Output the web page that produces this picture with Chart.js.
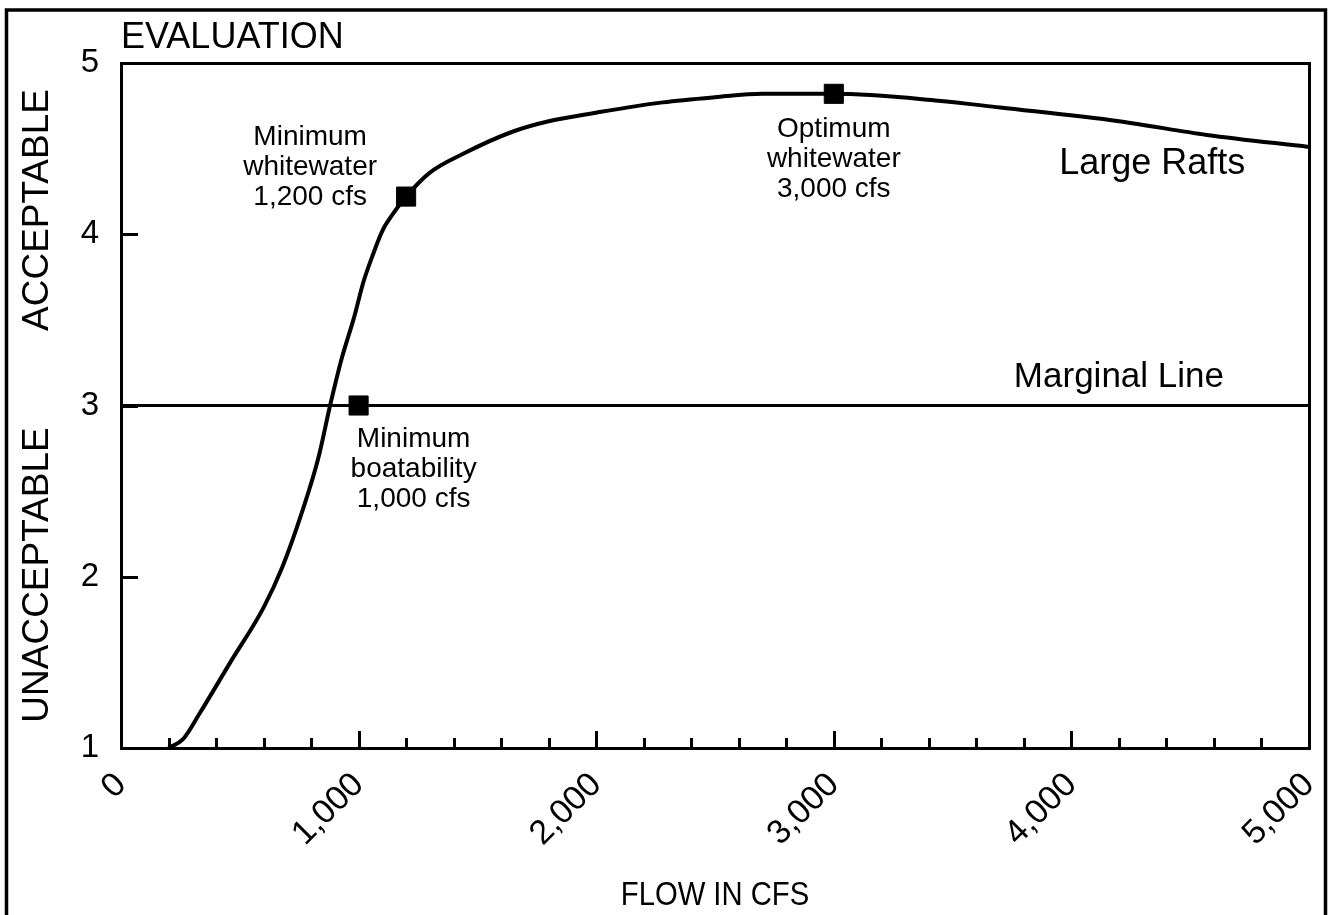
<!DOCTYPE html>
<html>
<head>
<meta charset="utf-8">
<script src="https://cdn.jsdelivr.net/npm/chart.js@4.4.1/dist/chart.umd.min.js"></script>
<style>
  html, body { margin: 0; padding: 0; background: #fff; }
  #wrap { width: 1333px; height: 915px; }
</style>
</head>
<body>
<div id="wrap"><canvas id="flowChart" width="1333" height="915"></canvas></div>
<script>
// Large rafts evaluation curve
const flowCfs = [200, 260, 330, 460, 600, 680, 760, 830, 880, 930, 980, 1020, 1060, 1100, 1140, 1200,
                 1300, 1440, 1650, 1800, 2000, 2280, 2500, 2700, 3000, 3440, 3700, 4200, 4570, 5000];
const ratingLargeRafts = [1.00, 1.05, 1.20, 1.50, 1.82, 2.06, 2.37, 2.69, 3.00, 3.28, 3.51, 3.72, 3.88, 4.02, 4.11, 4.22,
                          4.36, 4.47, 4.60, 4.66, 4.71, 4.77, 4.80, 4.82, 4.82, 4.78, 4.74, 4.66, 4.58, 4.51];

const markerFlow = [1000, 1200, 3000];
const markerRating = [3.00, 4.22, 4.82];

const marginalFlow = [0, 5000];
const marginalRating = [3, 3];

const markerNotes = [
    ['Minimum', 'boatability', '1,000 cfs'],
    ['Minimum', 'whitewater', '1,200 cfs'],
    ['Optimum', 'whitewater', '3,000 cfs']
];

const FONT = '"Liberation Sans", Arial, Helvetica, sans-serif';

// pixel offsets of each note from its marker (layout only)
const noteOffsets = [
    {dx: 55, dy: 41},
    {dx: -96, dy: -52},
    {dx: 0, dy: 43}
];

function toPoints(xs, ys) {
    return xs.map((x, i) => ({x: x, y: ys[i]}));
}

function fmtFlow(v) {
    return v.toLocaleString('en-US');
}

function textLines(ctx, lines, cx, y0, lh) {
    lines.forEach((t, i) => ctx.fillText(t, cx, y0 + i * lh));
}

const figurePlugin = {
    id: 'figure',
    beforeDraw(chart) {
        const ctx = chart.ctx;
        ctx.save();
        ctx.fillStyle = '#fff';
        ctx.fillRect(0, 0, chart.width, chart.height);
        // outer border of the figure
        ctx.strokeStyle = '#000';
        ctx.lineWidth = 3.5;
        ctx.beginPath();
        ctx.moveTo(6.5, 920);
        ctx.lineTo(6.5, 10);
        ctx.lineTo(1325.5, 10);
        ctx.lineTo(1325.5, 920);
        ctx.stroke();
        ctx.restore();
    },
    afterDatasetsDraw(chart) {
        const ctx = chart.ctx;
        const a = chart.chartArea;
        const xs = chart.scales.x;
        const ys = chart.scales.y;
        ctx.save();
        ctx.strokeStyle = '#000';
        ctx.fillStyle = '#000';

        // plot frame
        ctx.lineWidth = 3;
        ctx.strokeRect(a.left + 0.5, a.top + 0.5, a.right - a.left, a.bottom - a.top);

        // inward ticks on the flow axis
        xs.ticks.forEach(t => {
            const px = Math.round(xs.getPixelForValue(t.value)) + 0.5;
            const len = t.value % 1000 === 0 ? 17 : 10;
            ctx.beginPath();
            ctx.moveTo(px, a.bottom);
            ctx.lineTo(px, a.bottom - len);
            ctx.stroke();
        });
        // inward ticks on the rating axis
        ys.ticks.forEach(t => {
            const py = Math.round(ys.getPixelForValue(t.value)) + 0.5;
            ctx.beginPath();
            ctx.moveTo(a.left, py);
            ctx.lineTo(a.left + 17, py);
            ctx.stroke();
        });

        // marker notes
        ctx.textAlign = 'center';
        ctx.textBaseline = 'alphabetic';
        ctx.font = '28px ' + FONT;
        markerNotes.forEach((lines, i) => {
            const px = xs.getPixelForValue(markerFlow[i]) + noteOffsets[i].dx;
            const py = ys.getPixelForValue(markerRating[i]) + noteOffsets[i].dy;
            textLines(ctx, lines, px, py, 30);
        });

        ctx.font = '36px ' + FONT;
        ctx.fillText('Large Rafts', xs.getPixelForValue(4340), ys.getPixelForValue(4.35));
        ctx.font = '35px ' + FONT;
        ctx.fillText('Marginal Line', xs.getPixelForValue(4200), ys.getPixelForValue(3.11));

        // titles
        ctx.textAlign = 'left';
        ctx.font = '36px ' + FONT;
        ctx.fillText('EVALUATION', 121, 48);

        // x title is a little condensed in the original
        ctx.textAlign = 'center';
        ctx.font = '34px ' + FONT;
        ctx.save();
        ctx.translate(715, 905);
        ctx.scale(0.86, 1);
        ctx.fillText('FLOW IN CFS', 0, 0);
        ctx.restore();

        ctx.font = '37px ' + FONT;
        ctx.textBaseline = 'middle';
        [['ACCEPTABLE', 210], ['UNACCEPTABLE', 575]].forEach(([t, cy]) => {
            ctx.save();
            ctx.translate(38, cy);
            ctx.rotate(-Math.PI / 2);
            ctx.fillText(t, 0, 0);
            ctx.restore();
        });
        ctx.restore();
    }
};

const ctx = document.getElementById('flowChart');

new Chart(ctx, {
    type: 'line',
    data: {
        datasets: [{
            label: 'Large Rafts',
            data: toPoints(flowCfs, ratingLargeRafts),
            borderColor: '#000',
            borderWidth: 4,
            pointRadius: 0,
            cubicInterpolationMode: 'monotone',
            fill: false
        }, {
            label: 'Marginal Line',
            data: toPoints(marginalFlow, marginalRating),
            borderColor: '#000',
            borderWidth: 3,
            pointRadius: 0,
            fill: false
        }, {
            label: 'Key flows',
            data: toPoints(markerFlow, markerRating),
            showLine: false,
            pointStyle: 'rect',
            pointRadius: 13.5,
            pointBackgroundColor: '#000',
            pointBorderColor: '#000',
            pointBorderWidth: 1
        }]
    },
    options: {
        responsive: false,
        animation: false,
        devicePixelRatio: 1,
        layout: {
            padding: {left: 0, right: 24, top: 63, bottom: 0}
        },
        plugins: {
            legend: {display: false},
            tooltip: {enabled: false}
        },
        scales: {
            x: {
                type: 'linear',
                min: 0,
                max: 5000,
                grid: {display: false, drawTicks: false},
                border: {display: false},
                ticks: {
                    stepSize: 200,
                    autoSkip: false,
                    minRotation: 45,
                    maxRotation: 45,
                    padding: 17,
                    color: '#000',
                    font: {family: FONT, size: 34},
                    callback: v => (v % 1000 === 0 ? fmtFlow(v) : '')
                },
                afterFit(scale) {
                    scale.height = 167;
                    scale.paddingLeft = 0;
                    scale.paddingRight = 0;
                }
            },
            y: {
                type: 'linear',
                min: 1,
                max: 5,
                grid: {display: false, drawTicks: false},
                border: {display: false},
                ticks: {
                    stepSize: 1,
                    padding: 22,
                    color: '#000',
                    font: {family: FONT, size: 33}
                },
                afterFit(scale) {
                    scale.width = 121;
                    scale.paddingTop = 0;
                    scale.paddingBottom = 0;
                }
            }
        }
    },
    plugins: [figurePlugin]
});
</script>
</body>
</html>
